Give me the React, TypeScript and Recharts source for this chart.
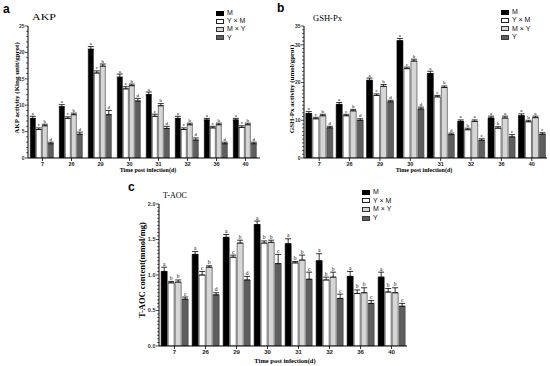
import React from 'react';
import { BarChart, Bar, XAxis, YAxis, ErrorBar, LabelList, Legend } from 'recharts';

const days = ['7', '26', '29', '30', '31', '32', '36', '40'];
const seriesNames = ['M', 'Y × M', 'M × Y', 'Y'];
const seriesKeys = ['M', 'YM', 'MY', 'Y'];
const fills = ['#000000', '#ffffff', '#d6d6d6', '#5e5e5e'];
const strokes = ['#000000', '#222222', '#333333', '#3a3a3a'];

// Panel a: AKP
const akpM = [7.5, 9.7, 20.6, 15.3, 12.0, 7.5, 7.2, 7.2];
const akpYM = [5.4, 7.5, 16.1, 13.1, 7.9, 5.4, 5.7, 5.8];
const akpMY = [6.1, 8.2, 17.4, 13.7, 9.9, 6.3, 6.3, 6.3];
const akpY = [2.7, 4.5, 8.2, 10.8, 5.6, 3.4, 2.7, 2.7];
const akpErrM = [0.4, 0.4, 0.5, 0.6, 0.5, 0.4, 0.3, 0.3];
const akpErrYM = [0.3, 0.3, 0.4, 0.4, 0.4, 0.3, 0.3, 0.3];
const akpErrMY = [0.3, 0.3, 0.4, 0.3, 0.4, 0.3, 0.3, 0.3];
const akpErrY = [0.3, 0.4, 0.8, 0.5, 0.4, 0.4, 0.3, 0.3];
const akpLetM = ['a', 'a', 'a', 'a', 'a', 'a', 'a', 'a'];
const akpLetYM = ['c', 'c', 'c', 'c', 'c', 'c', 'c', 'c'];
const akpLetMY = ['b', 'b', 'b', 'b', 'b', 'b', 'b', 'b'];
const akpLetY = ['d', 'd', 'd', 'd', 'd', 'd', 'd', 'd'];

// Panel b: GSH-Px
const gshM = [11.8, 14.2, 20.6, 31.1, 22.4, 9.7, 10.6, 11.2];
const gshYM = [10.4, 11.2, 16.6, 23.7, 16.2, 7.5, 7.9, 9.6];
const gshMY = [11.2, 12.5, 19.0, 25.7, 18.7, 9.7, 10.6, 10.7];
const gshY = [8.0, 10.0, 14.9, 13.0, 6.2, 4.7, 5.6, 6.3];
const gshErrM = [0.5, 0.5, 0.6, 0.6, 0.6, 0.4, 0.5, 0.5];
const gshErrYM = [0.4, 0.4, 0.4, 0.4, 0.4, 0.4, 0.4, 0.4];
const gshErrMY = [0.4, 0.4, 0.5, 0.5, 0.4, 0.4, 0.5, 0.4];
const gshErrY = [0.4, 0.4, 0.4, 0.5, 0.4, 0.4, 0.6, 0.4];
const gshLetM = ['a', 'a', 'a', 'a', 'a', 'a', 'a', 'a'];
const gshLetYM = ['c', 'c', 'c', 'c', 'c', 'b', 'b', 'b'];
const gshLetMY = ['b', 'b', 'b', 'b', 'b', 'a', 'a', 'a'];
const gshLetY = ['d', 'd', 'd', 'd', 'd', 'c', 'c', 'c'];

// Panel c: T-AOC
const taocM = [1.05, 1.29, 1.53, 1.71, 1.44, 1.20, 0.98, 0.97];
const taocYM = [0.89, 1.00, 1.25, 1.45, 1.17, 0.93, 0.74, 0.76];
const taocMY = [0.90, 1.11, 1.45, 1.46, 1.21, 0.97, 0.75, 0.75];
const taocY = [0.66, 0.72, 0.93, 1.16, 0.94, 0.67, 0.60, 0.56];
const taocErrM = [0.06, 0.04, 0.04, 0.05, 0.07, 0.10, 0.07, 0.07];
const taocErrYM = [0.02, 0.05, 0.03, 0.03, 0.02, 0.04, 0.05, 0.05];
const taocErrMY = [0.03, 0.02, 0.04, 0.03, 0.07, 0.07, 0.07, 0.07];
const taocErrY = [0.03, 0.03, 0.05, 0.13, 0.10, 0.06, 0.04, 0.04];
const taocLetM = ['a', 'a', 'a', 'a', 'a', 'a', 'a', 'a'];
const taocLetYM = ['b', 'c', 'c', 'b', 'b', 'b', 'b', 'b'];
const taocLetMY = ['b', 'b', 'b', 'b', 'b', 'b', 'b', 'b'];
const taocLetY = ['c', 'd', 'd', 'c', 'c', 'c', 'c', 'c'];

const akpTicks = Array.from({ length: 26 }, (_, i) => i);
const gshTicks = Array.from({ length: 36 }, (_, i) => i);
const taocTicks = Array.from({ length: 41 }, (_, i) => Math.round(i * 5) / 100);

const SANS = 'Liberation Sans, Arial, sans-serif';
const SERIF = 'Liberation Serif, Times New Roman, serif';

function buildRows(vals: number[][], errs: number[][]) {
  return days.map((d, i) => {
    const row: any = { day: d };
    seriesKeys.forEach((k, s) => {
      row[k] = vals[s][i];
      row['e' + k] = [0, errs[s][i]];
    });
    return row;
  });
}

const akpData = buildRows([akpM, akpYM, akpMY, akpY], [akpErrM, akpErrYM, akpErrMY, akpErrY]);
const gshData = buildRows([gshM, gshYM, gshMY, gshY], [gshErrM, gshErrYM, gshErrMY, gshErrY]);
const taocData = buildRows([taocM, taocYM, taocMY, taocY], [taocErrM, taocErrYM, taocErrMY, taocErrY]);

const makeYTick = (isMajor: (v: number) => boolean, fmt: (v: number) => string, fs: number) => (props: any) => {
  const { x, y, payload } = props;
  const v = payload.value;
  const major = isMajor(v);
  return (
    <g>
      <line x1={x - (major ? 3 : 1.8)} x2={x} y1={y} y2={y} stroke="#000" strokeWidth={0.7} />
      {major && (
        <text x={x - 3.5} y={y} dy="0.35em" textAnchor="end" fontSize={fs} fontWeight="bold" fontFamily={SANS} fill="#333">
          {fmt(v)}
        </text>
      )}
    </g>
  );
};

const makeLetter = (letters: string[], errs: number[], fs: number) => (props: any) => {
  const vb = props.viewBox || props;
  const x = vb.x ?? props.x;
  const y = vb.y ?? props.y;
  const width = vb.width ?? props.width;
  const height = Math.abs(vb.height ?? props.height);
  const idx = props.index;
  const value = Number(props.value);
  if (idx === undefined || !value) return null;
  const pxPer = height / value;
  const ty = y - errs[idx] * pxPer - 1.5;
  return (
    <text x={x + width / 2} y={ty} fontSize={fs} textAnchor="middle" fontFamily={SERIF} fill="#000">
      {letters[idx]}
    </text>
  );
};

const LegendBox = ({ fs, rowH }: { fs: number; rowH: number }) => (
  <div style={{ fontFamily: SANS, fontSize: fs, color: '#111', lineHeight: rowH + 'px' }}>
    {seriesNames.map((n, i) => (
      <div key={n} style={{ display: 'flex', alignItems: 'center', height: rowH }}>
        <span
          style={{
            display: 'inline-block',
            width: 6,
            height: 3,
            background: fills[i],
            border: '0.7px solid ' + strokes[i],
            marginRight: 3,
          }}
        />
        <span>{n}</span>
      </div>
    ))}
  </div>
);

type PanelProps = {
  data: any[];
  width: number;
  height: number;
  yWidth: number;
  margin: { top: number; right: number; left: number; bottom: number };
  xHeight: number;
  domain: [number, number];
  ticks: number[];
  isMajor: (v: number) => boolean;
  fmt: (v: number) => string;
  tickFs: number;
  xFs: number;
  letterFs: number;
  letters: string[][];
  errs: number[][];
  gap: string;
  legendPos: { left: number; top: number };
  legendFs: number;
  legendRow: number;
};

const Panel = (p: PanelProps) => (
  <BarChart width={p.width} height={p.height} data={p.data} margin={p.margin} barCategoryGap={p.gap} barGap={1}>
    <XAxis
      dataKey="day"
      height={p.xHeight}
      tickSize={3}
      tickMargin={1}
      axisLine={{ stroke: '#000', strokeWidth: 1 }}
      tickLine={{ stroke: '#000', strokeWidth: 0.8 }}
      tick={{ fontSize: p.xFs, fontWeight: 'bold', fontFamily: SANS, fill: '#222' }}
      interval={0}
    />
    <YAxis
      type="number"
      domain={p.domain}
      ticks={p.ticks}
      interval={0}
      width={p.yWidth}
      tickSize={0}
      tickMargin={0}
      tickLine={false}
      axisLine={{ stroke: '#000', strokeWidth: 1 }}
      tick={makeYTick(p.isMajor, p.fmt, p.tickFs)}
      allowDataOverflow
    />
    <Legend
      layout="vertical"
      align="center"
      verticalAlign="middle"
      wrapperStyle={{ left: p.legendPos.left, top: p.legendPos.top, width: 60 }}
      content={() => <LegendBox fs={p.legendFs} rowH={p.legendRow} />}
    />
    {seriesKeys.map((k, s) => (
      <Bar
        key={k}
        dataKey={k}
        name={seriesNames[s]}
        fill={fills[s]}
        stroke={strokes[s]}
        strokeWidth={0.6}
        isAnimationActive={false}
      >
        <ErrorBar dataKey={'e' + k} width={3} stroke="#000" strokeWidth={0.8} direction="y" />
        <LabelList dataKey={k} content={makeLetter(p.letters[s], p.errs[s], p.letterFs)} />
      </Bar>
    ))}
  </BarChart>
);

export default function App() {
  return (
    <div style={{ position: 'absolute', left: 0, top: 0, width: 550, height: 366, background: '#fff', overflow: 'hidden' }}>
      <div style={{ position: 'absolute', left: 0, top: 0 }}>
        <Panel
          data={akpData}
          width={275}
          height={180}
          yWidth={28}
          margin={{ top: 26, right: 15, left: 0, bottom: 0 }}
          xHeight={22}
          domain={[0, 25]}
          ticks={akpTicks}
          isMajor={(v) => v % 5 === 0}
          fmt={(v) => String(v)}
          tickFs={5}
          xFs={5.5}
          letterFs={5}
          letters={[akpLetM, akpLetYM, akpLetMY, akpLetY]}
          errs={[akpErrM, akpErrYM, akpErrMY, akpErrY]}
          gap="8%"
          legendPos={{ left: 216, top: 9 }}
          legendFs={7}
          legendRow={8.2}
        />
      </div>
      <div style={{ position: 'absolute', left: 275, top: 0 }}>
        <Panel
          data={gshData}
          width={275}
          height={180}
          yWidth={29}
          margin={{ top: 26, right: 3, left: 0, bottom: 0 }}
          xHeight={22}
          domain={[0, 35]}
          ticks={gshTicks}
          isMajor={(v) => v % 10 === 0 || v === 35}
          fmt={(v) => String(v)}
          tickFs={5}
          xFs={5.5}
          letterFs={5}
          letters={[gshLetM, gshLetYM, gshLetMY, gshLetY]}
          errs={[gshErrM, gshErrYM, gshErrMY, gshErrY]}
          gap="6%"
          legendPos={{ left: 226, top: 8 }}
          legendFs={7}
          legendRow={8.4}
        />
      </div>
      <div style={{ position: 'absolute', left: 100, top: 180 }}>
        <Panel
          data={taocData}
          width={310}
          height={186}
          yWidth={59}
          margin={{ top: 24, right: 3, left: 0, bottom: 0 }}
          xHeight={20}
          domain={[0, 2]}
          ticks={taocTicks}
          isMajor={(v) => Math.round(v * 100) % 50 === 0}
          fmt={(v) => v.toFixed(1)}
          tickFs={5.5}
          xFs={6}
          letterFs={5.5}
          letters={[taocLetM, taocLetYM, taocLetMY, taocLetY]}
          errs={[taocErrM, taocErrYM, taocErrMY, taocErrY]}
          gap="7%"
          legendPos={{ left: 262, top: 8 }}
          legendFs={7}
          legendRow={8.6}
        />
      </div>
      <svg width={550} height={366} style={{ position: 'absolute', left: 0, top: 0, pointerEvents: 'none' }}>
        <text x={3} y={13} fontSize={12} fontWeight="bold" fontFamily={SANS}>a</text>
        <text x={277} y={12} fontSize={12} fontWeight="bold" fontFamily={SANS}>b</text>
        <text x={128} y={191} fontSize={12} fontWeight="bold" fontFamily={SANS}>c</text>
        <text x={32} y={20} fontSize={9} fontFamily={SERIF} textLength={24} lengthAdjust="spacingAndGlyphs">AKP</text>
        <text x={313} y={21} fontSize={9} fontFamily={SERIF} textLength={29} lengthAdjust="spacingAndGlyphs">GSH-Px</text>
        <text x={163} y={198} fontSize={8} fontFamily={SERIF} textLength={24} lengthAdjust="spacingAndGlyphs">T-AOC</text>
        <text transform="translate(18.5,88) rotate(-90)" textAnchor="middle" fontSize={7} fontWeight="bold" fontFamily={SERIF}>
          AKP activity (King unit/gprot)
        </text>
        <text transform="translate(294,89) rotate(-90)" textAnchor="middle" fontSize={7} fontWeight="bold" fontFamily={SERIF}>
          GSH-Px activity (umol/gprot)
        </text>
        <text transform="translate(145,270) rotate(-90)" textAnchor="middle" fontSize={8.5} fontWeight="bold" fontFamily={SERIF}>
          T-AOC content(mmol/mg)
        </text>
        <text x={148} y={172} textAnchor="middle" fontSize={6} fontWeight="bold" fontFamily={SERIF}>
          Time post infection(d)
        </text>
        <text x={424} y={172} textAnchor="middle" fontSize={6} fontWeight="bold" fontFamily={SERIF}>
          Time post infection(d)
        </text>
        <text x={285} y={363} textAnchor="middle" fontSize={6.5} fontWeight="bold" fontFamily={SERIF}>
          Time post infection(d)
        </text>
      </svg>
    </div>
  );
}
